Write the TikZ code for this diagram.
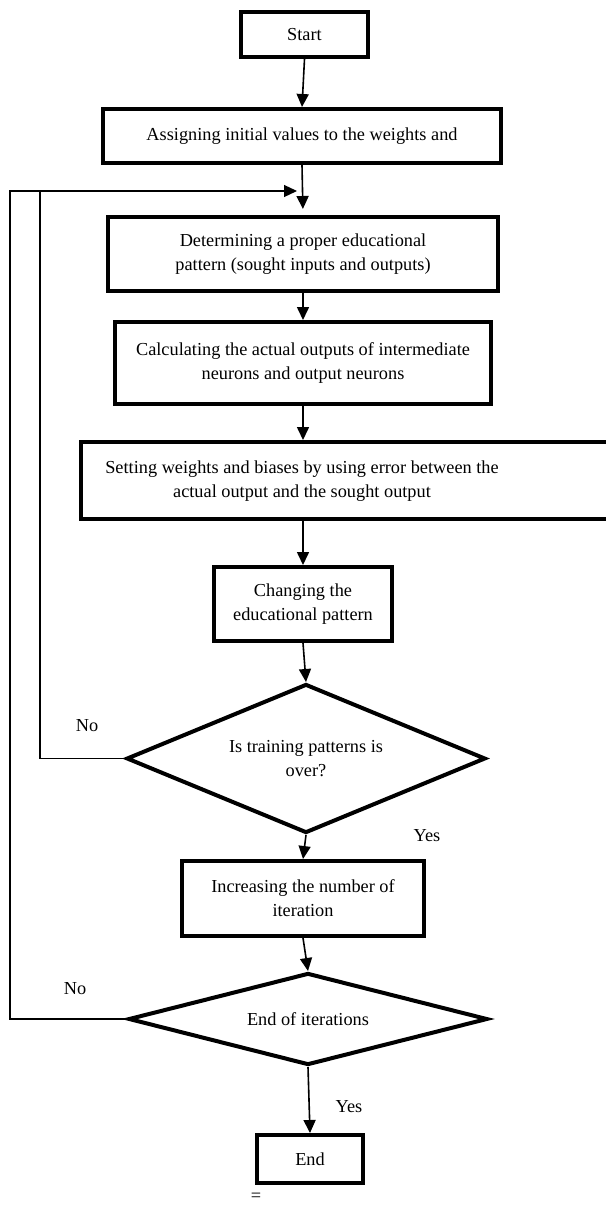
\documentclass[tikz,border=0pt]{standalone}
\usepackage{fontspec}
\setmainfont{Liberation Serif}
\usetikzlibrary{arrows.meta,shapes.geometric}
\definecolor{FlowInk}{gray}{0}
\tikzset{
    flow/diagram/.style={
        x=1pt, y=-1pt,
        font=\fontsize{18.3}{24}\selectfont,
        text=FlowInk,
        line join=miter
    },
    flow/box/.style={
        rectangle, draw=FlowInk, line width=4pt,
        align=center, inner sep=0pt
    },
    flow/test/.style={
        diamond, draw=FlowInk, line width=4pt,
        align=center, inner sep=0pt
    },
    flow/arrow/.style={
        draw=FlowInk, line width=1.6pt,
        -{Triangle[length=13pt, width=12pt]}
    },
    flow/back/.style={draw=FlowInk, line width=1.2pt},
    flow/label/.style={inner sep=0pt}
}
\begin{document}
\begin{tikzpicture}[flow/diagram]
    \useasboundingbox (0,0) rectangle (605,1207);
    % steps
    \node[flow/box, minimum width=127pt, minimum height=45pt] (start) at (304.5,34.5) {Start};
    \node[flow/box, minimum width=398pt, minimum height=54pt] (assign) at (302,136)
        {Assigning initial values to the weights and};
    \node[flow/box, minimum width=390pt, minimum height=74pt] (pattern) at (303,254)
        {Determining a proper educational\\pattern (sought inputs and outputs)};
    \node[flow/box, minimum width=376pt, minimum height=82pt] (calc) at (303,363)
        {Calculating the actual outputs of intermediate\\neurons and output neurons};
    \node[flow/box, minimum width=527pt, minimum height=77pt] (setbox) at (344.5,480.5) {};
    \node[flow/label, align=center] (settext) at (302,481)
        {Setting weights and biases by using error between the\\actual output and the sought output};
    \node[flow/box, minimum width=178pt, minimum height=74pt] (change) at (303,604)
        {Changing the\\educational pattern};
    \node[flow/test, aspect=2.4, minimum width=359pt, minimum height=149pt] (patterns) at (306,758.5)
        {Is training patterns is\\over?};
    \node[flow/box, minimum width=242pt, minimum height=75pt] (iter) at (303,898.5)
        {Increasing the number of\\iteration};
    \node[flow/test, aspect=3.8, minimum width=359pt, minimum height=92pt] (iters) at (308,1019)
        {End of iterations};
    \node[flow/box, minimum width=106pt, minimum height=48pt] (end) at (310,1159) {End};
    % labels
    \node[flow/label] (no1) at (87,726) {No};
    \node[flow/label] (yes1) at (427,836) {Yes};
    \node[flow/label] (no2) at (75,989) {No};
    \node[flow/label] (yes2) at (349,1107) {Yes};
    \node[flow/label] (eq) at (256,1197) {=};
    % loop back
    \coordinate (loop) at (297,191);
    \coordinate (outer) at (10,191);
    \coordinate (inner) at (40,191);
    % connectors
    \draw[flow/arrow] (start.south) -- (assign.north);
    \draw[flow/arrow, shorten >=6pt] (assign.south) -- (pattern.north);
    \draw[flow/arrow] (pattern.south) -- (calc.north);
    \draw[flow/arrow] (calc.south) -- (calc.south |- setbox.north);
    \draw[flow/arrow] (calc.south |- setbox.south) -- (change.north);
    \draw[flow/arrow] (change.south) -- (patterns.north);
    \draw[flow/arrow] (patterns.south) -- (iter.north);
    \draw[flow/arrow] (iter.south) -- (iters.north);
    \draw[flow/arrow] (iters.south) -- (end.north);
    \draw[flow/back, -{Triangle[length=13pt, width=12pt]}] (iters.west) -| (outer) -- (loop);
    \draw[flow/back] (patterns.west) -| (inner);
\end{tikzpicture}
\end{document}
